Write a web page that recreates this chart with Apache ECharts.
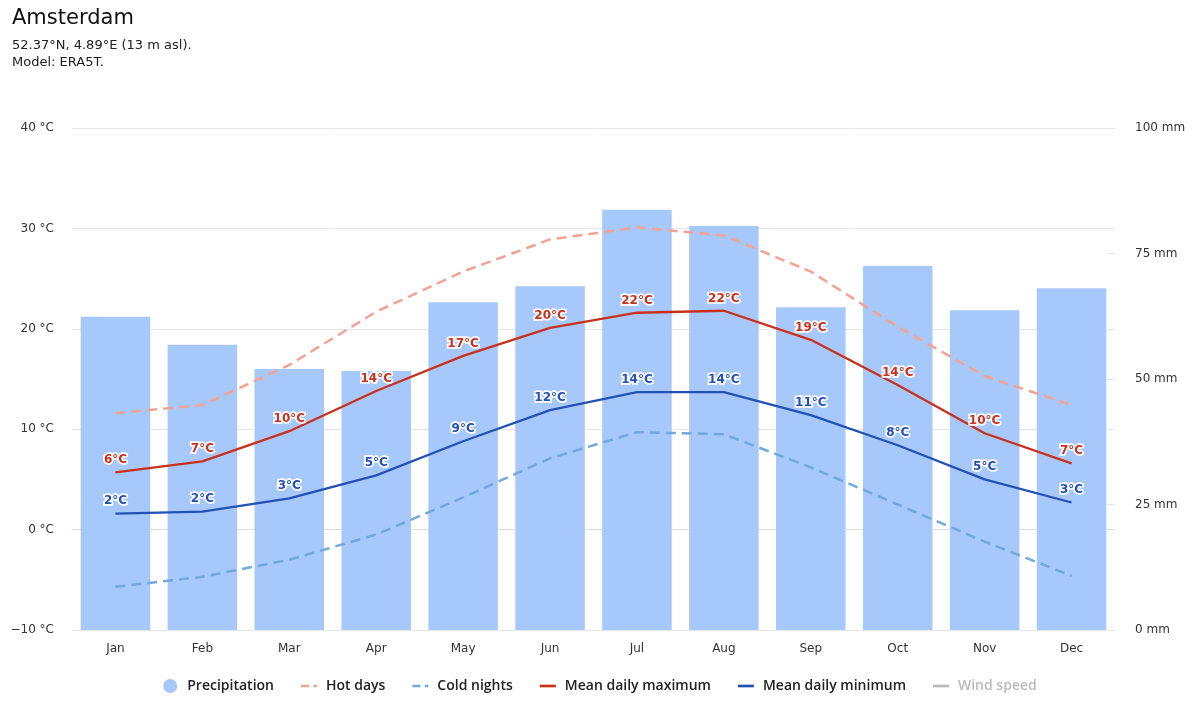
<!DOCTYPE html>
<html>
<head>
<meta charset="utf-8">
<script src="https://cdn.jsdelivr.net/npm/echarts@6/dist/echarts.min.js"></script>
<style>
html,body{margin:0;padding:0;background:#fff;}
#chart{width:1200px;height:720px;}
</style>
</head>
<body>
<div id="chart"></div>
<script>
const months = ['Jan','Feb','Mar','Apr','May','Jun','Jul','Aug','Sep','Oct','Nov','Dec'];
const precipitation = [62.4, 56.8, 52.0, 51.6, 65.3, 68.5, 83.7, 80.5, 64.3, 72.5, 63.7, 68.1];
const hotDays = [11.6, 12.4, 16.4, 21.7, 25.7, 28.9, 30.1, 29.3, 25.7, 20.2, 15.3, 12.4];
const coldNights = [-5.7, -4.7, -3.0, -0.5, 3.2, 7.1, 9.7, 9.5, 6.2, 2.5, -1.2, -4.6];
const meanMax = [5.7, 6.8, 9.8, 13.8, 17.3, 20.1, 21.6, 21.8, 18.9, 14.4, 9.6, 6.6];
const meanMin = [1.6, 1.8, 3.1, 5.4, 8.8, 11.9, 13.7, 13.7, 11.4, 8.4, 5.0, 2.7];
const windSpeed = [];
const tempTicks = [-10, 0, 10, 20, 30, 40];
const precipTicks = [0, 25, 50, 75, 100];

const FONT = 'DejaVu Sans';
const SOLID_ICON = 'path://M0,0H18V3H0Z';
const DASH_ICON = 'path://M0,0H9V3H0Z M14,0H18V3H14Z';
const chart = echarts.init(document.getElementById('chart'));

function tempLabel(color) {
  return {
    show: true, position: 'top', distance: 6,
    formatter: p => Math.round(p.value) + '°C',
    color: color, fontSize: 12, fontWeight: 'bold', fontFamily: FONT,
    textBorderColor: '#fff', textBorderWidth: 3.5
  };
}

chart.setOption({
  animation: false,
  backgroundColor: '#fff',
  title: [
    {text: 'Amsterdam', left: 12, top: 8, padding: 0, textStyle: {fontFamily: FONT, fontSize: 21, fontWeight: 'normal', color: '#111'}},
    {text: '52.37°N, 4.89°E (13 m asl).\nModel: ERA5T.', left: 12, top: 37, padding: 0,
     textStyle: {fontFamily: FONT, fontSize: 13, fontWeight: 'normal', color: '#222', lineHeight: 17}}
  ],
  legend: {
    bottom: 22, left: 'center', itemGap: 27, itemWidth: 16, itemHeight: 14,
    textStyle: {fontFamily: 'Open Sans', fontSize: 14, fontWeight: 600, color: '#222', padding: [0, 0, 0, 4]},
    inactiveColor: '#bbb',
    data: [
      {name: 'Precipitation', icon: 'circle'},
      {name: 'Hot days', icon: DASH_ICON}, {name: 'Cold nights', icon: DASH_ICON},
      {name: 'Mean daily maximum', icon: SOLID_ICON}, {name: 'Mean daily minimum', icon: SOLID_ICON},
      {name: 'Wind speed', icon: SOLID_ICON}
    ],
    selected: {'Wind speed': false}
  },
  grid: {left: 72, right: 85, top: 128, bottom: 90, containLabel: false},
  xAxis: {
    type: 'category', data: months,
    axisLine: {lineStyle: {color: '#ddd'}},
    axisTick: {show: false},
    axisLabel: {fontFamily: FONT, fontSize: 12, color: '#333', margin: 13}
  },
  yAxis: [
    {
      type: 'value', min: tempTicks[0], max: tempTicks[tempTicks.length-1], interval: 10,
      axisLine: {show: false}, axisTick: {show: false},
      splitLine: {lineStyle: {color: '#e6e6e6'}},
      axisLabel: {fontFamily: FONT, fontSize: 12, color: '#333', margin: 18, formatter: v => (v < 0 ? '\u2212' + (-v) : v) + ' °C'}
    },
    {
      type: 'value', min: precipTicks[0], max: precipTicks[precipTicks.length-1], interval: 25,
      axisLine: {show: false}, axisTick: {show: true, length: 8, inside: true, lineStyle: {color: '#e6e6e6'}},
      splitLine: {show: false},
      axisLabel: {fontFamily: FONT, fontSize: 12, color: '#333', margin: 20, formatter: v => v + ' mm'}
    }
  ],
  series: [
    {
      name: 'Precipitation', type: 'bar', yAxisIndex: 1, data: precipitation,
      barWidth: '80%', itemStyle: {color: '#a7c8fb'}, z: 1
    },
    {
      name: 'Hot days', type: 'line', data: hotDays, smooth: false, symbol: 'none',
      lineStyle: {color: '#f2a393', width: 2.5, type: [10, 6]}, itemStyle: {color: '#f2a393'}, z: 3
    },
    {
      name: 'Cold nights', type: 'line', data: coldNights, smooth: false, symbol: 'none',
      lineStyle: {color: '#72a8dc', width: 2.5, type: [10, 6]}, itemStyle: {color: '#72a8dc'}, z: 3
    },
    {
      name: 'Mean daily maximum', type: 'line', data: meanMax, smooth: false,
      symbol: 'circle', symbolSize: 0.5, showSymbol: true,
      lineStyle: {color: '#c9311c', width: 2.3}, itemStyle: {color: '#c9311c'},
      label: tempLabel('#c9311c'), z: 4
    },
    {
      name: 'Mean daily minimum', type: 'line', data: meanMin, smooth: false,
      symbol: 'circle', symbolSize: 0.5, showSymbol: true,
      lineStyle: {color: '#2451b3', width: 2.3}, itemStyle: {color: '#2451b3'},
      label: tempLabel('#2451b3'), z: 4
    },
    {
      name: 'Wind speed', type: 'line', data: windSpeed, symbol: 'none',
      lineStyle: {color: '#999', width: 2.5}, itemStyle: {color: '#999'}
    }
  ]
});
</script>
</body>
</html>
